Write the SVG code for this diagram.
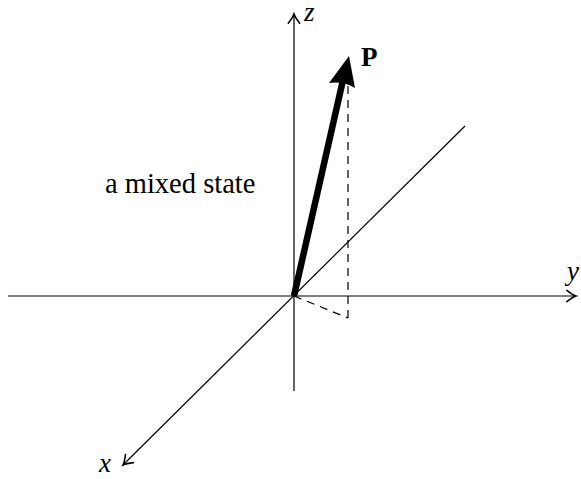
<svg xmlns="http://www.w3.org/2000/svg" width="581" height="479" viewBox="0 0 581 479">
  <defs>
    <style>
      .axis { stroke: #000; stroke-width: 1.2; fill: none; }
      .dash { stroke: #000; stroke-width: 1.2; fill: none; stroke-dasharray: 8 6; }
      .lbl { font-family: "Liberation Serif", "DejaVu Serif", serif; font-size: 27px; fill: #000; }
      .it { font-style: italic; }
      .bf { font-weight: bold; }
    </style>
    <marker id="to" markerUnits="userSpaceOnUse" markerWidth="16" markerHeight="16" viewBox="-11 -7 14 14" refX="0" refY="0" orient="auto">
      <path d="M -8 -5 Q -3 -1 0 0 Q -3 1 -8 5" fill="none" stroke="#000" stroke-width="1.4" stroke-linecap="round"/>
    </marker>
  </defs>
  <rect width="581" height="479" fill="#fff"/>
  <g id="connectors">
    <line class="axis" x1="294" y1="391" x2="294" y2="14" marker-end="url(#to)"/>
    <line class="axis" x1="8" y1="296" x2="576" y2="296" marker-end="url(#to)"/>
    <line class="axis" x1="465" y1="126" x2="123" y2="465" marker-end="url(#to)"/>
    <line class="dash" x1="348" y1="72" x2="348" y2="318"/>
    <line class="dash" x1="294" y1="296" x2="348" y2="318"/>
    <g id="vector-P">
      <line x1="294" y1="296" x2="343" y2="80" stroke="#000" stroke-width="6.5"/>
      <path d="M 349 56 L 355 88 Q 343 81 329 83 Z" fill="#000"/>
    </g>
  </g>
  <g id="label-z"><text class="lbl it" x="304" y="21">z</text></g>
  <g id="label-y"><text class="lbl it" x="567" y="280">y</text></g>
  <g id="label-x"><text class="lbl it" x="99" y="472">x</text></g>
  <g id="label-P"><text class="lbl bf" x="361" y="66">P</text></g>
  <g id="label-state"><text class="lbl" x="105" y="193" style="font-size:28.5px">a mixed state</text></g>
</svg>
